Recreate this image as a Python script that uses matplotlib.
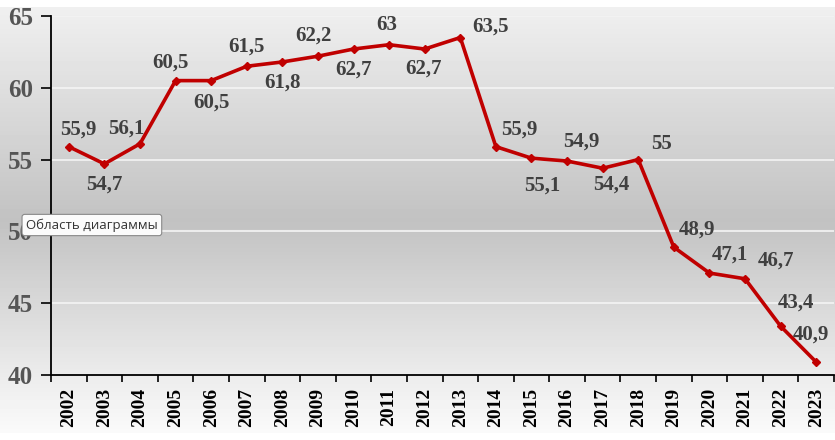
import numpy as np
import matplotlib
matplotlib.use('Agg')
import matplotlib.pyplot as plt

# chart data
years = [str(y) for y in range(2002, 2024)]
values = [55.9, 54.7, 56.1, 60.5, 60.5, 61.5, 61.8, 62.2, 62.7, 63.0, 62.7,
          63.5, 55.9, 55.1, 54.9, 54.4, 55.0, 48.9, 47.1, 46.7, 43.4, 40.9]
labels = ['55,9', '54,7', '56,1', '60,5', '60,5', '61,5', '61,8', '62,2', '62,7', '63', '62,7',
          '63,5', '55,9', '55,1', '54,9', '54,4', '55', '48,9', '47,1', '46,7', '43,4', '40,9']
y_ticks = [40, 45, 50, 55, 60, 65]

# label offsets in points (dx, dy) from each point
offsets = [(7, 12), (0, -15), (-10, 11), (-4, 13), (0, -16), (0, 14), (0, -15), (-3, 15),
           (0, -15), (-2, 14), (-1, -14), (22, 8), (17, 12), (8, -20), (10, 14), (6, -12),
           (17, 11), (17, 13), (15, 13), (22, 13), (11, 17), (-4, 20)]

red = '#c00000'
serif = ['Liberation Serif', 'DejaVu Serif']

fig = plt.figure(figsize=(8.35, 4.4), dpi=100)

# background gradient (white -> light gray -> mid gray -> light)
bg = fig.add_axes([0, 0, 1, 1], zorder=0)
rows = np.arange(440)
stops_y = [0, 6, 7, 220, 380, 432, 433, 440]
stops_v = [1.0, 1.0, 0.94, 0.76, 0.93, 0.98, 1.0, 1.0]
col = np.interp(rows, stops_y, stops_v)
img = np.repeat(col[:, None], 835, axis=1)
bg.imshow(img, cmap='gray', vmin=0, vmax=1, aspect='auto', extent=[0, 835, 440, 0])
bg.axis('off')

ax = fig.add_axes([51 / 835, 65 / 440, 783 / 835, 359 / 440], zorder=1)
ax.patch.set_alpha(0)

x = np.arange(len(years))
ax.plot(x, values, color=red, linewidth=2.6, marker='D', markersize=4, zorder=3)

for xi, v, lab, (dx, dy) in zip(x, values, labels, offsets):
    ax.annotate(lab, (xi, v), xytext=(dx, dy), textcoords='offset points',
                ha='center', va='center', fontsize=15, fontweight='bold',
                family=serif, color='#404040', zorder=4)

ax.set_xlim(-0.5, len(years) - 0.5)
ax.set_ylim(40, 65)
ax.set_yticks(y_ticks)
ax.set_yticklabels([str(t) for t in y_ticks], fontsize=18, fontweight='bold',
                   family=serif, color='#555555')
ax.set_xticks(x)
ax.set_xticklabels(years, rotation=90, fontsize=14, fontweight='bold', family=serif,
                   color='black')
ax.set_xticks(np.arange(-0.5, len(years), 1), minor=True)
ax.tick_params(axis='x', which='major', length=0, pad=9)
ax.tick_params(axis='x', which='minor', length=5, width=1.2, color='black')
ax.tick_params(axis='y', length=7, width=1.2, color='black', pad=6)

for t in y_ticks[1:]:
    ax.axhline(t, color='#f4f4f4', linewidth=1.2, zorder=1)

for s in ['top', 'right']:
    ax.spines[s].set_visible(False)
for s in ['left', 'bottom']:
    ax.spines[s].set_linewidth(1.3)
    ax.spines[s].set_color('black')

# Excel tooltip seen in the screenshot
fig.text(26 / 835, 1 - 225 / 440, 'Область диаграммы', fontsize=9.5, color='#333333',
         family=['Open Sans', 'DejaVu Sans'], ha='left', va='center', zorder=5,
         bbox=dict(boxstyle='round,pad=0.3,rounding_size=0.2', fc='#fbfbfb', ec='#8a8a8a', lw=0.8))

fig.savefig('out.png', dpi=100)
